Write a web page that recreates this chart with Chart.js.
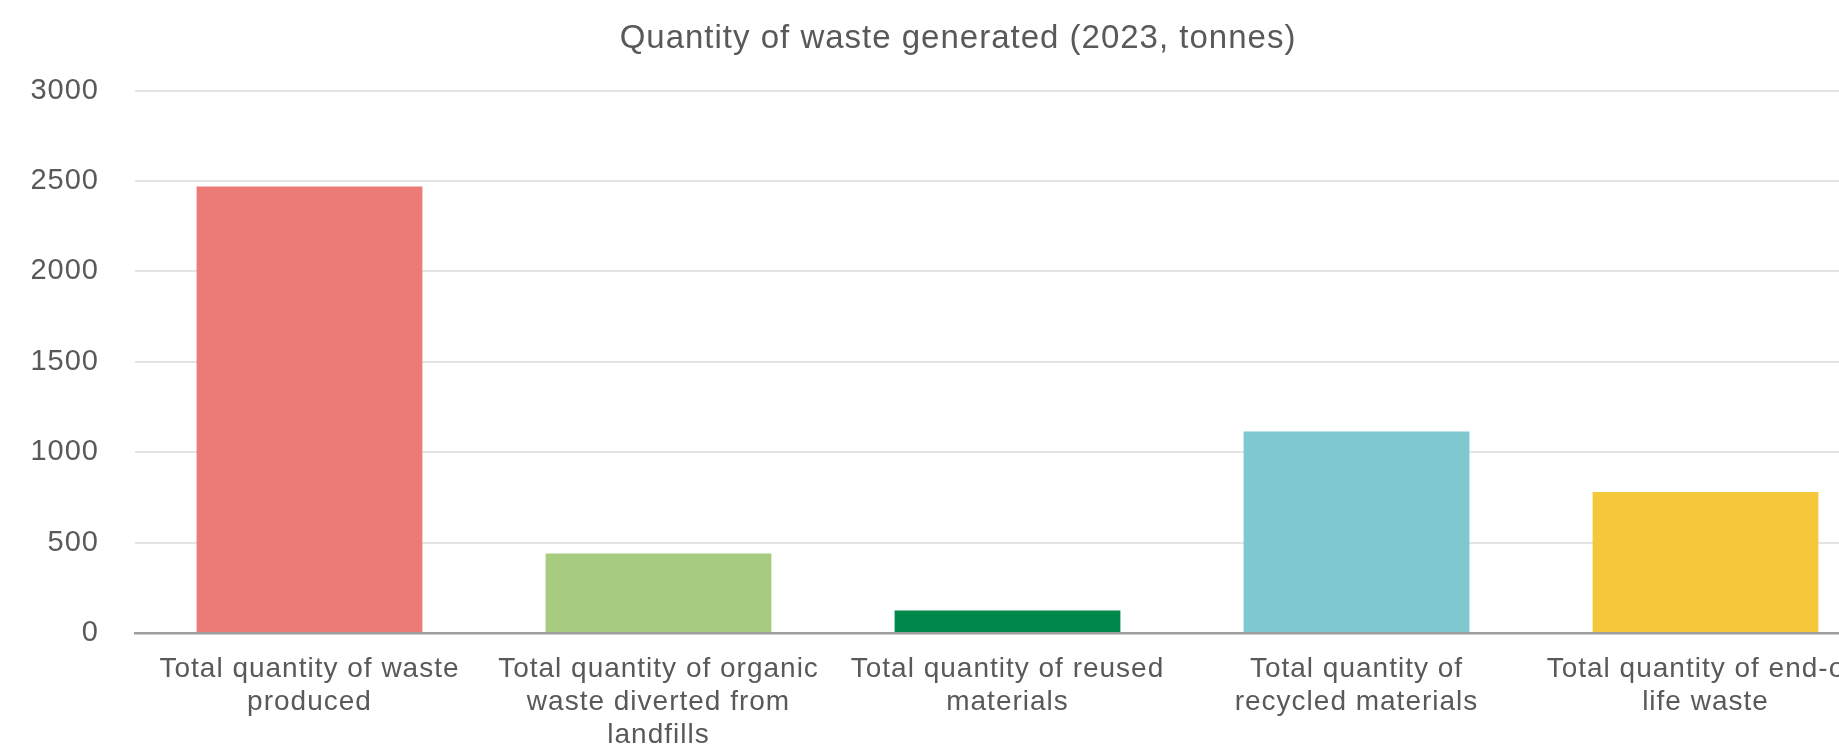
<!DOCTYPE html>
<html>
<head>
<meta charset="utf-8">
<script src="https://cdn.jsdelivr.net/npm/chart.js@4"></script>
<style>
  html, body { margin: 0; padding: 0; background: #fff; overflow: hidden; }
  #wrap { width: 1916px; height: 747px; }
</style>
</head>
<body>
<div id="wrap"><canvas id="wasteChart" width="1916" height="747"></canvas></div>
<script>
const categories = [
  ['Total quantity of waste', 'produced'],
  ['Total quantity of organic', 'waste diverted from', 'landfills'],
  ['Total quantity of reused', 'materials'],
  ['Total quantity of', 'recycled materials'],
  ['Total quantity of end-of-', 'life waste']
];
const tonnes = [2470, 440, 125, 1115, 780];
const barColors = ['#EC7A76', '#A8CC7F', '#00884A', '#7EC8D0', '#F5C83C'];
const yTicks = [0, 500, 1000, 1500, 2000, 2500, 3000];

const textColor = '#595959';
const fontFamily = '"Liberation Sans", Arial, sans-serif';

// the reference text is slightly tracked out, and its title sits a bit right of the padded box
const tweaks = {
  id: 'tweaks',
  beforeUpdate: (chart) => { chart.ctx.letterSpacing = '1px'; },
  afterLayout: (chart) => { if (chart.titleBlock) chart.titleBlock.left = 36; },
  beforeDraw: (chart) => { chart.ctx.letterSpacing = '1px'; }
};

const ctx = document.getElementById('wasteChart');

new Chart(ctx, {
  type: 'bar',
  plugins: [tweaks],
  data: {
    labels: categories,
    datasets: [{
      label: 'tonnes',
      data: tonnes,
      backgroundColor: barColors,
      borderWidth: 0,
      categoryPercentage: 1,
      barPercentage: 0.647
    }]
  },
  options: {
    responsive: false,
    animation: false,
    devicePixelRatio: 1,
    layout: { padding: { left: 16, right: 36, top: 0, bottom: 0 } },
    plugins: {
      legend: { display: false },
      tooltip: { enabled: false },
      title: {
        display: true,
        text: 'Quantity of waste generated (2023, tonnes)',
        color: textColor,
        font: { family: fontFamily, size: 33, weight: 'normal' },
        padding: { top: 19, bottom: 32 }
      }
    },
    scales: {
      x: {
        grid: { display: false },
        border: { display: true, color: '#9E9E9E', width: 2.5 },
        ticks: {
          color: textColor,
          font: { family: fontFamily, size: 28, lineHeight: 1.18 },
          padding: 12,
          maxRotation: 0,
          autoSkip: false
        },
        afterFit: (scale) => { scale.height = 114; }
      },
      y: {
        min: 0,
        max: 3000,
        afterBuildTicks: (scale) => { scale.ticks = yTicks.map(v => ({ value: v })); },
        grid: { color: '#E4E4E4', lineWidth: 2, drawTicks: false },
        border: { display: false },
        ticks: {
          color: textColor,
          font: { family: fontFamily, size: 29 },
          padding: 36,
          callback: (v) => String(v)
        },
        afterFit: (scale) => { scale.width = 119; }
      }
    }
  }
});
</script>
</body>
</html>
